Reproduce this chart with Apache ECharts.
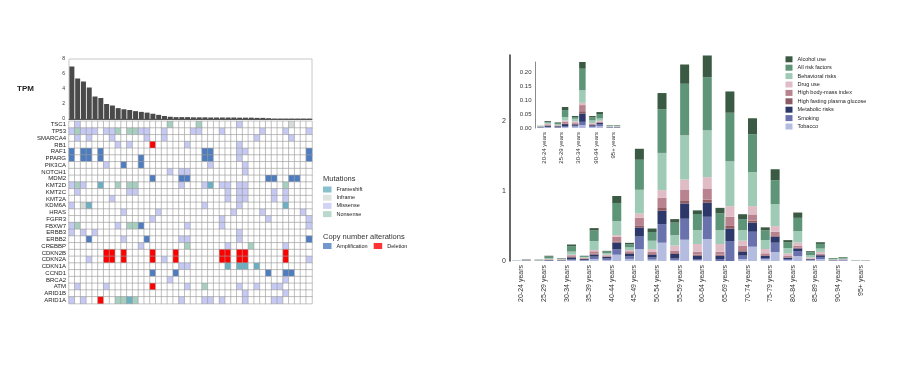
<!DOCTYPE html>
<html><head><meta charset="utf-8">
<script src="https://cdn.jsdelivr.net/npm/echarts/dist/echarts.min.js"></script>
<style>html,body{margin:0;padding:0;background:#fff}#c{width:900px;height:383px}</style>
</head><body><div id="c"></div>
<script>
// ---------- Left panel data ----------
const tpmValues = [7.0, 5.4, 5.0, 4.2, 3.0, 2.8, 2.0, 1.8, 1.45, 1.3, 1.2, 1.05, 0.95, 0.85, 0.7, 0.55, 0.4, 0.3, 0.25, 0.25, 0.25, 0.22, 0.22, 0.22, 0.2, 0.2, 0.2, 0.2, 0.2, 0.18, 0.18, 0.18, 0.15, 0.15, 0.1, 0.05, 0.05, 0.05, 0.05, 0.05, 0.05, 0.05];
const tpmTicks = [0, 2, 4, 6, 8];
const genes = ['TSC1','TP53','SMARCA4','RB1','RAF1','PPARG','PIK3CA','NOTCH1','MDM2','KMT2D','KMT2C','KMT2A','KDM6A','HRAS','FGFR3','FBXW7','ERBB3','ERBB2','CREBBP','CDKN2B','CDKN2A','CDKN1A','CCND1','BRCA2','ATM','ARID1B','ARID1A'];
// per gene: "column+code" (F frameshift, I inframe, M missense, N nonsense, A amplification, D deletion)
const alterations = [
  "1M 17N 22N 29M 38I",
  "0M 1N 2M 3M 4M 6M 7M 8N 10N 11N 12M 13M 16M 21M 22M 26M 33M 37M 41M",
  "1M 3M 7M 13M 16M 32M 38M",
  "8M 10M 14D 20M 29M",
  "0A 2A 3A 5A 23A 24A 29M 30M 41A",
  "0A 2A 3A 5A 12A 23A 24A 29M 41A",
  "6M 9A 12A 24M 30M",
  "17M 19M 20M 30M",
  "14A 19A 20A 34A 35A 38A 39A",
  "0M 1N 2M 5F 8N 10N 11N 19M 23M 24F 26M 27M 29M 30M 37N",
  "1M 10M 11M 27M 29M 30M 35M 37M",
  "7M 27M 29M 30M 35M 37M",
  "0M 2I 3F 23M 29M 37F",
  "9M 15M 28M 33M 40M",
  "14M 26M 34M 41M",
  "0M 1N 8M 10N 11N 12A 20M 26M 41M",
  "0M 2M 4M 29M",
  "3A 9M 13A 19M 20M 29M 41A",
  "12M 20N 27M 31N 37M",
  "6D 7D 9D 14D 18D 26D 27D 29D 30D 37D",
  "3M 6D 7D 9D 14D 16M 18D 26D 27D 29D 30D 37D 41M",
  "19M 20M 27F 29F 30F 32F",
  "14A 18A 34A 37A 38A",
  "17M 37M",
  "1M 6M 14D 20M 23N 29M 32M 35M 36M",
  "30M 37M",
  "0M 2M 5D 8N 9N 10F 11N 19M 23M 24M 26M 30M 35M 36M"
];
const mutationTypes = ['Frameshift','Inframe','Missense','Nonsense'];
const cnaTypes = ['Amplification','Deletion'];

// ---------- Right panel data ----------
const ageGroups = ['20-24 years','25-29 years','30-34 years','35-39 years','40-44 years','45-49 years','50-54 years','55-59 years','60-64 years','65-69 years','70-74 years','75-79 years','80-84 years','85-89 years','90-94 years','95+ years'];
const riskFactors = ['Tobacco','Smoking','Metabolic risks','High fasting plasma glucose','High body-mass index','Drug use','Behavioral risks','All risk factors','Alcohol use'];
const legendOrder = ['Alcohol use','All risk factors','Behavioral risks','Drug use','High body-mass index','High fasting plasma glucose','Metabolic risks','Smoking','Tobacco'];
const tobaccoA    = [0.001, 0.001, 0.005, 0.006, 0.015, 0.03, 0.02, 0.015, 0.014, 0, 0.029, 0.024, 0.014, 0.008, 0.003, 0.001];
const smokingA    = [0.001, 0.002, 0.003, 0.006, 0.02, 0.035, 0.03, 0.02, 0.014, 0.028, 0.048, 0.019, 0.014, 0.008, 0.003, 0.001];
const metabolicA  = [0.001, 0.003, 0.005, 0.015, 0.025, 0.04, 0.04, 0.065, 0.048, 0.048, 0.057, 0.029, 0.019, 0.01, 0.004, 0.001];
const glucoseA    = [0.0005, 0.001, 0.002, 0.004, 0.005, 0.01, 0.01, 0.012, 0.015, 0.015, 0.02, 0.01, 0.006, 0.003, 0.001, 0.0005];
const bmiA        = [0.001, 0.002, 0.005, 0.01, 0.015, 0.025, 0.03, 0.038, 0.042, 0.042, 0.066, 0.028, 0.018, 0.007, 0.003, 0.001];
const drugA       = [0.0005, 0.001, 0.004, 0.006, 0.01, 0.015, 0.04, 0.07, 0.11, 0.11, 0.071, 0.062, 0.038, 0.014, 0.003, 0.001];
const behavioralA = [0.001, 0.004, 0.009, 0.01, 0.025, 0.04, 0.12, 0.15, 0.2, 0.2, 0.152, 0.129, 0.076, 0.033, 0.01, 0.0015];
const allRiskA    = [0.0015, 0.004, 0.006, 0.012, 0.02, 0.045, 0.125, 0.18, 0.23, 0.238, 0.157, 0.138, 0.081, 0.043, 0.011, 0.002];
const alcoholA    = [0.0005, 0.002, 0.004, 0.006, 0.01, 0.02, 0.05, 0.05, 0.052, 0.08, 0.07, 0.043, 0.033, 0.014, 0.005, 0.001];
const tobaccoB    = [0.002, 0.003, 0.01, 0.029, 0.09, 0.17, 0.262, 0.305, 0.314, 0, 0.205, 0.129, 0.071, 0.029, 0.006, 0.001];
const smokingB    = [0.002, 0.004, 0.012, 0.033, 0.076, 0.18, 0.267, 0.3, 0.319, 0.286, 0.214, 0.133, 0.071, 0.029, 0.008, 0.001];
const metabolicB  = [0.004, 0.007, 0.03, 0.029, 0.095, 0.13, 0.19, 0.219, 0.2, 0.176, 0.129, 0.086, 0.038, 0.024, 0.004, 0.001];
const glucoseB    = [0.001, 0.002, 0.008, 0.012, 0.02, 0.03, 0.04, 0.045, 0.045, 0.04, 0.03, 0.02, 0.01, 0.006, 0.001, 0.0005];
const bmiB        = [0.004, 0.007, 0.022, 0.036, 0.066, 0.11, 0.146, 0.155, 0.16, 0.131, 0.089, 0.051, 0.028, 0.018, 0.003, 0.001];
const drugB       = [0.002, 0.004, 0.008, 0.019, 0.024, 0.06, 0.11, 0.143, 0.162, 0.152, 0.119, 0.081, 0.048, 0.024, 0.004, 0.001];
const behavioralB = [0.004, 0.012, 0.045, 0.128, 0.2, 0.34, 0.533, 0.633, 0.671, 0.643, 0.486, 0.314, 0.162, 0.048, 0.008, 0.0015];
const allRiskB    = [0.003, 0.025, 0.077, 0.152, 0.26, 0.43, 0.624, 0.738, 0.762, 0.695, 0.543, 0.343, 0.19, 0.067, 0.016, 0.002];
const alcoholB    = [0.003, 0.011, 0.024, 0.033, 0.1, 0.157, 0.233, 0.276, 0.31, 0.305, 0.229, 0.157, 0.076, 0.024, 0.007, 0.001];
const insetGroups = ['20-24 years','25-29 years','30-34 years','90-94 years','95+ years'];
const mainTicks = [0, 1, 2];
const insetTicks = [0, 0.05, 0.10, 0.15, 0.20];

// ---------- styles ----------
const FONT = 'Liberation Sans, Arial, sans-serif';
const mutColors = {Frameshift:'#6ab0c2', Inframe:'#d4dcda', Missense:'#c5c9f3', Nonsense:'#a7cfbf', Amplification:'#4e7dbf', Deletion:'#ff0000'};
const riskColors = {'Tobacco':'#b4bce0','Smoking':'#6a72ae','Metabolic risks':'#2c3869','High fasting plasma glucose':'#8e5b65','High body-mass index':'#b8838f','Drug use':'#dfbcc6','Behavioral risks':'#9fcbb6','All risk factors':'#5e9477','Alcohol use':'#3b5a43'};

const samples = tpmValues.map((_, i) => 'S' + (i + 1));
const codeMap = {F:1, I:2, M:3, N:4, A:5, D:6};
const heatData = [];
genes.forEach((g, gi) => {
  const row = samples.map(() => 0);
  alterations[gi].split(' ').forEach(t => { if (t) row[parseInt(t, 10)] = codeMap[t.slice(-1)]; });
  row.forEach((v, ci) => heatData.push([ci, gi, v]));
});

const seriesA = [tobaccoA, smokingA, metabolicA, glucoseA, bmiA, drugA, behavioralA, allRiskA, alcoholA];
const seriesB = [tobaccoB, smokingB, metabolicB, glucoseB, bmiB, drugB, behavioralB, allRiskB, alcoholB];
const insetIdx = insetGroups.map(g => ageGroups.indexOf(g));

const series = [];
series.push({type:'bar', xAxisIndex:0, yAxisIndex:0, data: tpmValues, barCategoryGap:'14%', itemStyle:{color:'#4a4a4a'}, silent:true});
series.push({type:'heatmap', name:'alterations', xAxisIndex:1, yAxisIndex:1, data: heatData, itemStyle:{borderColor:'#9c9c9c', borderWidth:0.6}, emphasis:{disabled:true}, silent:true});
mutationTypes.concat(cnaTypes).forEach(n => series.push({type:'scatter', name:n, xAxisIndex:1, yAxisIndex:1, data:[], itemStyle:{color: mutColors[n]}}));
[['a', seriesA], ['b', seriesB]].forEach(([s, arrs]) => {
  arrs.forEach((arr, i) => {
    series.push({type:'bar', name: riskFactors[i], stack:'main' + s, xAxisIndex:2, yAxisIndex:2, data: arr, barWidth:9, barGap:'10%', itemStyle:{color: riskColors[riskFactors[i]]}, silent:true});
  });
});
[['a', seriesA], ['b', seriesB]].forEach(([s, arrs]) => {
  arrs.forEach((arr, i) => {
    series.push({type:'bar', name: riskFactors[i], stack:'inset' + s, xAxisIndex:3, yAxisIndex:3, data: insetIdx.map(k => arr[k]), barWidth:6.5, barGap:'12%', itemStyle:{color: riskColors[riskFactors[i]]}, silent:true});
  });
});

const legendText = {fontFamily: FONT, fontSize: 5.5, color: '#222', lineHeight: 6};
const option = {
  animation: false,
  textStyle: {fontFamily: FONT},
  grid: [
    {left: 69, top: 59, width: 243, height: 60, show: true, borderColor: '#c8c8c8', borderWidth: 1, backgroundColor: '#fff'},
    {left: 69, top: 121.3, width: 243, height: 182.3},
    {left: 510, top: 55, width: 362, height: 206},
    {left: 535.5, top: 62, width: 86.5, height: 66}
  ],
  xAxis: [
    {gridIndex:0, type:'category', data: samples, axisLine:{lineStyle:{color:'#555'}}, axisTick:{show:false}, axisLabel:{show:false}},
    {gridIndex:1, type:'category', data: samples, axisLine:{show:false}, axisTick:{show:false}, axisLabel:{show:false}},
    {gridIndex:2, type:'category', data: ageGroups, axisLine:{show:false}, axisTick:{show:false}, axisLabel:{rotate:90, interval:0, fontSize:7, color:'#333', margin:4, fontFamily: FONT}},
    {gridIndex:3, type:'category', data: insetGroups, axisLine:{show:false}, axisTick:{show:false}, axisLabel:{rotate:90, interval:0, fontSize:6, color:'#333', margin:4, fontFamily: FONT}}
  ],
  yAxis: [
    {gridIndex:0, type:'value', min: tpmTicks[0], max: tpmTicks[tpmTicks.length-1], interval: 2, splitLine:{show:false}, axisLine:{show:false}, axisTick:{show:false}, axisLabel:{fontSize:5, color:'#333', margin:4}},
    {gridIndex:1, type:'category', data: genes, inverse:true, axisLine:{show:false}, axisTick:{show:false}, axisLabel:{interval:0, fontSize:6, color:'#222', margin:3, fontFamily: FONT}},
    {gridIndex:2, type:'value', min: 0, max: 2.95, interval: 1, splitLine:{show:false}, axisLine:{show:true, lineStyle:{color:'#333', width:1.5}}, axisTick:{show:false}, axisLabel:{fontSize:7, color:'#333', margin:4, showMaxLabel:false, formatter: v => mainTicks.includes(v) ? String(v) : ''}},
    {gridIndex:3, type:'value', min: 0, max: 0.236, interval: 0.05, splitLine:{show:false}, axisLine:{show:true, lineStyle:{color:'#8a8a8a', width:1}}, axisTick:{show:false}, axisLabel:{fontSize:6, color:'#333', margin:4, showMaxLabel:false, formatter: v => insetTicks.some(t => Math.abs(t - v) < 1e-9) ? v.toFixed(2) : ''}}
  ],
  visualMap: {type:'piecewise', show:false, seriesIndex:1, dimension:2, pieces:[
    {value:0, color:'#ffffff'}, {value:1, color: mutColors.Frameshift}, {value:2, color: mutColors.Inframe},
    {value:3, color: mutColors.Missense}, {value:4, color: mutColors.Nonsense}, {value:5, color: mutColors.Amplification}, {value:6, color: mutColors.Deletion}]},
  legend: [
    {data: mutationTypes, left: 323, top: 186.5, orient:'vertical', icon:'rect', itemWidth:8.5, itemHeight:6, itemGap:2.2, padding:0, selectedMode:false, textStyle: legendText},
    {data: cnaTypes, left: 323, top: 243, orient:'horizontal', icon:'rect', itemWidth:8.5, itemHeight:6, itemGap:6, padding:0, selectedMode:false, textStyle: legendText},
    {data: legendOrder, left: 785.5, top: 56.3, orient:'vertical', icon:'rect', itemWidth:7, itemHeight:6, itemGap:2.4, padding:0, selectedMode:false, textStyle: legendText}
  ],
  graphic: [
    {type:'text', left: 17, top: 85, style:{text:'TPM', font:'bold 8px ' + FONT, fill:'#222'}},
    {type:'text', left: 323, top: 175, style:{text:'Mutations', font:'7.5px ' + FONT, fill:'#333'}},
    {type:'text', left: 323, top: 233, style:{text:'Copy number alterations', font:'7.5px ' + FONT, fill:'#333'}}
  ],
  series: series
};
const chart = echarts.init(document.getElementById('c'), null, {renderer:'canvas'});
chart.setOption(option);
</script></body></html>
